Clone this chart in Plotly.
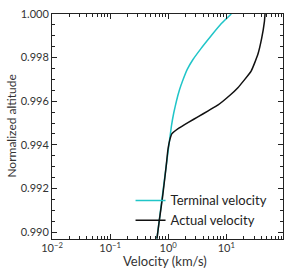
import plotly.graph_objects as go

# Terminal velocity curve (km/s) vs normalized altitude
term_vel = [0.639, 0.790, 0.950, 1.052, 1.138, 1.246, 1.386, 1.559, 1.789, 2.135, 2.650, 3.628,
            5.439, 8.216, 12.17]
term_alt = [0.98970, 0.99162, 0.99329, 0.99420, 0.99488, 0.99547, 0.99601, 0.99651, 0.99697, 0.99747,
            0.99790, 0.99840, 0.99899, 0.99956, 1.000]

# Actual velocity curve
act_vel = [0.64, 0.70, 0.80, 0.92, 0.984, 1.03, 1.07, 1.152, 1.50, 2.22, 3.29, 4.87, 7.22, 11.4,
           15.8, 26.7, 34.8, 40.6, 45.2, 46.3]
act_alt = [0.98970, 0.99050, 0.99162, 0.99300, 0.99374, 0.99405, 0.99425, 0.99450, 0.99475, 0.99503,
           0.99529, 0.99556, 0.99583, 0.99626, 0.99662, 0.99738, 0.99814, 0.99889, 0.99965, 1.000]

x_tickvals = [0.01, 0.1, 1, 10]
x_ticktext = ["10<sup>\u22122</sup>", "10<sup>\u22121</sup>", "10<sup>0</sup>", "10<sup>1</sup>"]
x_minor = [m * 10.0 ** e for e in range(-2, 2) for m in range(2, 10)]

x_title = "Velocity (km/s)"
y_title = "Normalized altitude"

FONT = "Lato"

fig = go.Figure()
fig.add_trace(go.Scatter(x=term_vel, y=term_alt, mode="lines", name="Terminal velocity",
                         line=dict(color="#20c5c8", width=1.5, shape="spline", smoothing=0.4)))
fig.add_trace(go.Scatter(x=act_vel, y=act_alt, mode="lines", name="Actual velocity",
                         line=dict(color="#111111", width=1.5, shape="spline", smoothing=0.4)))

fig.add_annotation(text=x_title, xref="paper", yref="paper", x=0.491, y=-0.097,
                   xanchor="center", yanchor="middle", showarrow=False,
                   font=dict(family=FONT, size=13, color="#333"))
fig.add_annotation(text=y_title, xref="paper", yref="paper", x=-0.177, y=0.5,
                   xanchor="center", yanchor="middle", showarrow=False, textangle=-90,
                   font=dict(family=FONT, size=12, color="#333"))

fig.update_layout(
    width=291, height=277,
    margin=dict(l=52, r=7, t=12, b=38),
    paper_bgcolor="white", plot_bgcolor="white",
    font=dict(family=FONT, size=11, color="#333333"),
    showlegend=True,
    legend=dict(x=0.340, y=0.238, xanchor="left", yanchor="top",
                bgcolor="rgba(0,0,0,0)", font=dict(size=13, color="#222222"),
                tracegroupgap=0, itemwidth=30),
    xaxis=dict(type="log", range=[-2, 1.975],
               tickvals=x_tickvals, ticktext=x_ticktext, ticklabelstandoff=-1,
               ticks="inside", ticklen=5, tickcolor="#222", tickwidth=1,
               minor=dict(tickvals=x_minor, ticks="inside", ticklen=3, tickcolor="#222"),
               showline=True, linecolor="#222", linewidth=1, mirror="ticks",
               showgrid=False, zeroline=False),
    yaxis=dict(range=[0.98968, 1.000], dtick=0.002, tick0=0.99, tickformat=".3f",
               ticks="inside", ticklen=5, tickcolor="#222", tickwidth=1,
               minor=dict(dtick=0.0005, ticks="inside", ticklen=3, tickcolor="#222"),
               showline=True, linecolor="#222", linewidth=1, mirror="ticks",
               showgrid=False, zeroline=False),
)

fig.write_html("out.html", config={"displayModeBar": False},
               post_script="document.body.style.margin='0px';")
